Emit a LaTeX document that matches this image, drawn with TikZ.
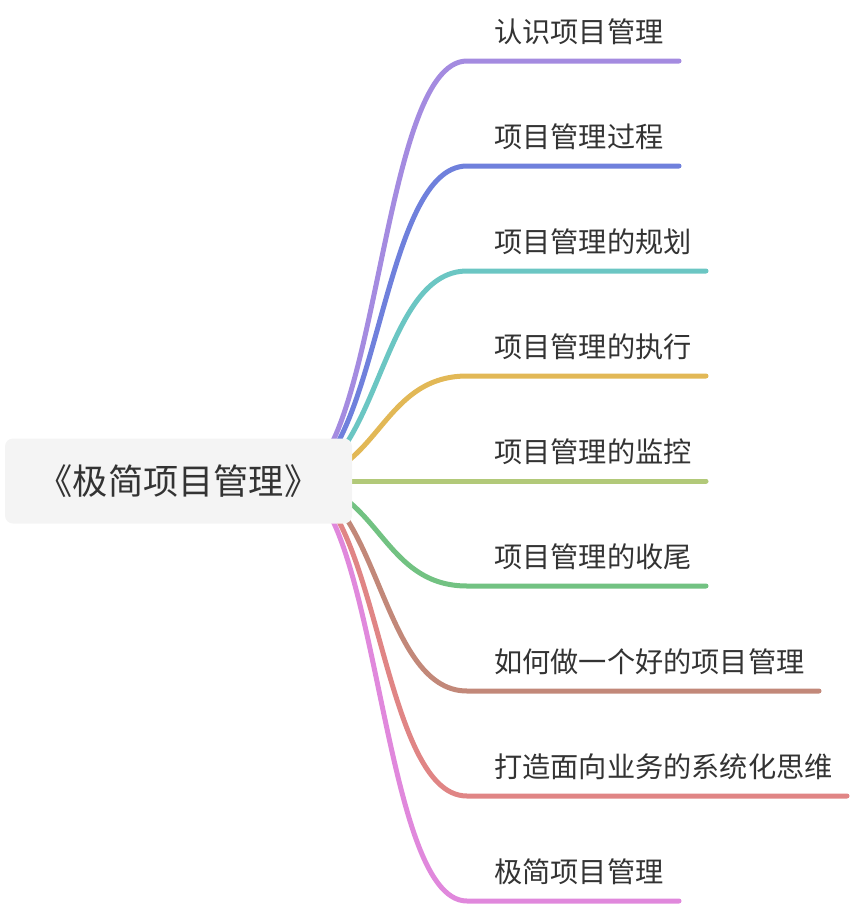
\documentclass[tikz,border=0pt]{standalone}
\usepackage{fontspec}
\setmainfont{Noto Sans CJK SC}
\definecolor{cPurple}{HTML}{A48BE0}
\definecolor{cBlue}{HTML}{6F80DC}
\definecolor{cTeal}{HTML}{6BC6C3}
\definecolor{cYellow}{HTML}{E2B856}
\definecolor{cLime}{HTML}{B2C979}
\definecolor{cGreen}{HTML}{72C282}
\definecolor{cBrown}{HTML}{C28879}
\definecolor{cRed}{HTML}{E08585}
\definecolor{cPink}{HTML}{E088DC}
\definecolor{txt}{HTML}{333333}
\definecolor{rootfill}{HTML}{F4F4F4}
\tikzset{
  branch/.style={line width=5pt, line cap=round},
  leaf/.style={anchor=west, inner sep=0pt, text=txt, font=\fontsize{28.2}{33}\selectfont},
  rootbox/.style={fill=rootfill, rounded corners=8pt, inner sep=0pt, minimum width=347pt, minimum height=85pt, text=txt, font=\fontsize{35.2}{40}\selectfont}
}
\begin{document}
\begin{tikzpicture}[x=1pt,y=-1pt]
\useasboundingbox (0,0) rectangle (852,906);
\coordinate (s) at (291,481);
% curve ends and line ends
\foreach \i/\yy/\xe in {1/61/679,2/166/679,3/271/706,4/376/706,5/481/706,6/586/706,7/691/819,8/796/847,9/901/679}{
  \coordinate (e\i) at (467,\yy);
  \coordinate (f\i) at (\xe,\yy);
}
\draw[branch,cPurple] (s) .. controls +(88,0) and +(-88,0) .. (e1) -- (f1);
\draw[branch,cBlue]   (s) .. controls +(88,0) and +(-88,0) .. (e2) -- (f2);
\draw[branch,cTeal]   (s) .. controls +(88,0) and +(-88,0) .. (e3) -- (f3);
\draw[branch,cYellow] (s) .. controls +(88,0) and +(-88,0) .. (e4) -- (f4);
\draw[branch,cLime]   (s) -- (f5);
\draw[branch,cGreen]  (s) .. controls +(88,0) and +(-88,0) .. (e6) -- (f6);
\draw[branch,cBrown]  (s) .. controls +(88,0) and +(-88,0) .. (e7) -- (f7);
\draw[branch,cRed]    (s) .. controls +(88,0) and +(-88,0) .. (e8) -- (f8);
\draw[branch,cPink]   (s) .. controls +(88,0) and +(-88,0) .. (e9) -- (f9);
\node[rootbox] (root) at (178.5,481) {《极简项目管理》};
\node[leaf] (c1) at (494,32) {认识项目管理};
\node[leaf] (c2) at (494,137) {项目管理过程};
\node[leaf] (c3) at (494,242) {项目管理的规划};
\node[leaf] (c4) at (494,347) {项目管理的执行};
\node[leaf] (c5) at (494,452) {项目管理的监控};
\node[leaf] (c6) at (494,557) {项目管理的收尾};
\node[leaf] (c7) at (494,662) {如何做一个好的项目管理};
\node[leaf] (c8) at (494,767) {打造面向业务的系统化思维};
\node[leaf] (c9) at (494,872) {极简项目管理};
\end{tikzpicture}
\end{document}
